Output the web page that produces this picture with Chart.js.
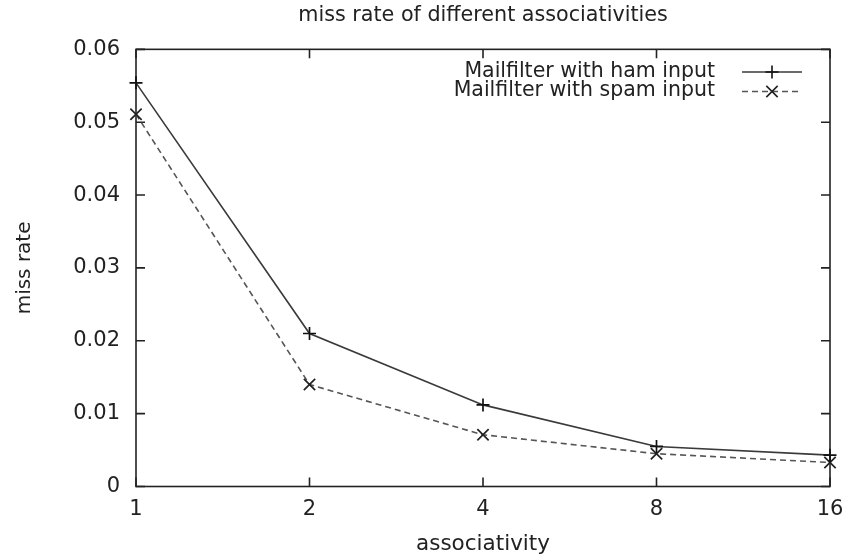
<!DOCTYPE html>
<html>
<head>
<meta charset="utf-8">
<title>miss rate of different associativities</title>
<script src="https://cdn.jsdelivr.net/npm/chart.js@4.4.1/dist/chart.umd.min.js"></script>
<style>
  html, body { margin: 0; padding: 0; background: #fff; }
  #wrap { width: 849px; height: 558px; }
</style>
</head>
<body>
<div id="wrap"><canvas id="chart" width="849" height="558"></canvas></div>
<script>
// Cache associativity (ways) on the x axis
const associativity = ['1', '2', '4', '8', '16'];
// Miss rate per associativity, one array per input set
const hamMissRate  = [0.0554, 0.0210, 0.0112, 0.0055, 0.0043];
const spamMissRate = [0.0511, 0.0140, 0.0071, 0.0045, 0.0033];
// Y axis tick values
const yTicks = [0, 0.01, 0.02, 0.03, 0.04, 0.05, 0.06];
const seriesLabels = ['Mailfilter with ham input', 'Mailfilter with spam input'];

const FONT = "'DejaVu Sans', sans-serif";
const INK = '#222';

// Closed frame around the plot with gnuplot-style inward ticks on all four sides
const framePlugin = {
  id: 'frame',
  beforeDatasetsDraw(chart, args, opts) {
    const { ctx, chartArea: a, scales: { x, y } } = chart;
    const L = opts.tickLength;
    ctx.save();
    ctx.strokeStyle = opts.color;
    ctx.lineWidth = opts.width;
    ctx.strokeRect(a.left, a.top, a.right - a.left, a.bottom - a.top);
    ctx.beginPath();
    x.ticks.forEach((t, i) => {
      const px = x.getPixelForTick(i);
      ctx.moveTo(px, a.bottom); ctx.lineTo(px, a.bottom - L);
      ctx.moveTo(px, a.top);    ctx.lineTo(px, a.top + L);
    });
    y.ticks.forEach((t, i) => {
      const py = y.getPixelForTick(i);
      ctx.moveTo(a.left, py);  ctx.lineTo(a.left + L, py);
      ctx.moveTo(a.right, py); ctx.lineTo(a.right - L, py);
    });
    ctx.stroke();
    ctx.restore();
  }
};

// Key in the upper right corner: label text, then a line sample with its marker
const keyPlugin = {
  id: 'key',
  afterDatasetsDraw(chart, args, opts) {
    const ctx = chart.ctx;
    ctx.save();
    chart.data.datasets.forEach((ds, i) => {
      const y = opts.top + i * opts.rowGap;
      ctx.font = opts.fontSize + 'px ' + FONT;
      ctx.fillStyle = INK;
      ctx.textAlign = 'right';
      ctx.textBaseline = 'middle';
      ctx.fillText(ds.label, opts.textRight, y + opts.textShift);

      ctx.strokeStyle = ds.borderColor;
      ctx.lineWidth = ds.borderWidth;
      ctx.setLineDash(ds.borderDash || []);
      ctx.beginPath();
      ctx.moveTo(opts.sampleLeft, y);
      ctx.lineTo(opts.sampleLeft + opts.sampleWidth, y);
      ctx.stroke();
      ctx.setLineDash([]);

      ctx.strokeStyle = ds.pointBorderColor;
      ctx.fillStyle = 'rgba(0,0,0,0)';
      Chart.helpers.drawPoint(ctx, {
        pointStyle: ds.pointStyle,
        radius: ds.pointRadius,
        borderWidth: ds.pointBorderWidth,
        rotation: 0
      }, opts.sampleLeft + opts.sampleWidth / 2, y);
    });
    ctx.restore();
  }
};

new Chart(document.getElementById('chart'), {
  type: 'line',
  data: {
    labels: associativity,
    datasets: [
      {
        label: seriesLabels[0],
        data: hamMissRate,
        borderColor: '#3a3a3a',
        borderWidth: 1.6,
        pointStyle: 'cross',
        pointRadius: 6.5,
        pointBorderColor: '#111',
        pointBorderWidth: 1.7,
        pointBackgroundColor: 'rgba(0,0,0,0)',
        tension: 0,
        clip: false
      },
      {
        label: seriesLabels[1],
        data: spamMissRate,
        borderColor: '#555',
        borderWidth: 1.6,
        borderDash: [6, 4],
        pointStyle: 'crossRot',
        pointRadius: 8,
        pointBorderColor: '#222',
        pointBorderWidth: 1.7,
        pointBackgroundColor: 'rgba(0,0,0,0)',
        tension: 0,
        clip: false
      }
    ]
  },
  options: {
    responsive: false,
    animation: false,
    devicePixelRatio: 1,
    layout: { padding: { left: 0, right: 19, top: 0, bottom: 0 } },
    scales: {
      x: {
        type: 'category',
        offset: false,
        grid: { display: false, drawTicks: false, tickLength: 0 },
        border: { display: false },
        ticks: {
          color: INK,
          font: { family: FONT, size: 21 },
          padding: 10,
          maxRotation: 0,
          autoSkip: false
        },
        title: {
          display: true,
          text: 'associativity',
          color: INK,
          font: { family: FONT, size: 21.5 },
          padding: { top: 0, bottom: 1 }
        },
        afterFit(scale) {
          scale.height = 71.5;
          scale.paddingLeft = 0;
          scale.paddingRight = 0;
        }
      },
      y: {
        min: 0,
        max: 0.06,
        grid: { display: false, drawTicks: false, tickLength: 0 },
        border: { display: false },
        afterBuildTicks(scale) { scale.ticks = yTicks.map(v => ({ value: v })); },
        ticks: {
          color: INK,
          font: { family: FONT, size: 21 },
          padding: 16,
          callback: v => String(v)
        },
        title: {
          display: true,
          text: 'miss rate',
          color: INK,
          font: { family: FONT, size: 20 },
          padding: { top: 13, bottom: 0 }
        },
        afterFit(scale) {
          scale.width = 136;
          scale.paddingTop = 0;
          scale.paddingBottom = 0;
        }
      }
    },
    plugins: {
      legend: { display: false },
      tooltip: { enabled: false },
      title: {
        display: true,
        text: 'miss rate of different associativities',
        color: INK,
        fullSize: false,
        font: { family: FONT, size: 20.7, weight: 'normal' },
        padding: { top: 3.3, bottom: 21.2 }
      },
      frame: { color: '#222', width: 1.6, tickLength: 9 },
      key: {
        top: 72,
        rowGap: 19.5,
        textShift: -0.5,
        fontSize: 20.5,
        textRight: 715,
        sampleLeft: 742,
        sampleWidth: 60
      }
    }
  },
  plugins: [framePlugin, keyPlugin]
});
</script>
</body>
</html>
